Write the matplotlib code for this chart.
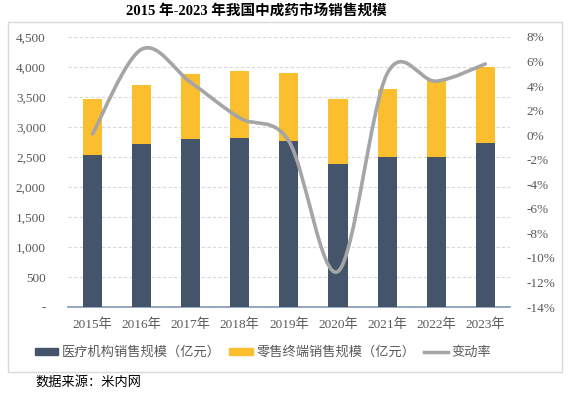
import matplotlib
matplotlib.use('Agg')
import matplotlib.pyplot as plt
from matplotlib.path import Path
from matplotlib.patches import PathPatch, Patch, Rectangle
from matplotlib.lines import Line2D
from matplotlib.ticker import FuncFormatter, MultipleLocator

plt.rcParams['font.family'] = ['Liberation Serif', 'Noto Sans CJK SC']

years = ['2015年', '2016年', '2017年', '2018年', '2019年', '2020年', '2021年', '2022年', '2023年']
hospital = [2533, 2711, 2806, 2822, 2772, 2383, 2506, 2506, 2728]
retail = [929, 995, 1072, 1111, 1123, 1079, 1122, 1272, 1277]
change = [0.1, 7.0, 4.3, 1.4, -0.5, -11.1, 5.0, 4.4, 5.8]

c_dark = '#44546A'
c_yellow = '#FBBE2E'
c_line = '#A5A5A5'
c_text = '#595959'

fig = plt.figure(figsize=(5.69, 3.93), dpi=100)
ax = fig.add_axes([0.1195, 0.2188, 0.7765, 0.6871])

# outer frame of the chart
fig.patches.append(Rectangle((8 / 569, 1 - 372 / 393), 554 / 569, 350 / 393,
                             transform=fig.transFigure, fill=False,
                             edgecolor='#D9D9D9', linewidth=1))

x = list(range(len(years)))
ax.bar(x, hospital, width=0.39, color=c_dark, zorder=3)
ax.bar(x, retail, width=0.39, bottom=hospital, color=c_yellow, zorder=3)

ax.set_xlim(-0.5, len(years) - 0.5)
ax.set_ylim(0, 4500)
ax.yaxis.set_major_locator(MultipleLocator(500))
ax.yaxis.set_major_formatter(FuncFormatter(lambda v, p: '-' if v == 0 else f'{v:,.0f}'))
ax.grid(axis='y', linestyle=(0, (3, 2)), color='#D9D9D9', linewidth=0.8, zorder=0)
ax.set_xticks(x)
ax.set_xticklabels(years)
for s in ['top', 'left', 'right']:
    ax.spines[s].set_visible(False)
ax.spines['bottom'].set_color('#8497B0')
ax.spines['bottom'].set_linewidth(1.2)
ax.tick_params(length=0, labelsize=9.5, labelcolor=c_text)
ax.tick_params(axis='x', pad=8)
ax.tick_params(axis='y', pad=16)

ax2 = ax.twinx()
ax2.set_ylim(-14, 8)
ax2.yaxis.set_major_locator(MultipleLocator(2))
ax2.yaxis.set_major_formatter(FuncFormatter(lambda v, p: f'{v:.0f}%'))
for s in ax2.spines.values():
    s.set_visible(False)
ax2.tick_params(length=0, labelsize=9.5, labelcolor=c_text, pad=12)

# smoothed line (Excel-style bezier through the data points)
pts = list(zip(x, change))
verts = [pts[0]]
codes = [Path.MOVETO]
n = len(pts)
for i in range(n - 1):
    p0 = pts[i - 1] if i > 0 else pts[i]
    p1 = pts[i]
    p2 = pts[i + 1]
    p3 = pts[i + 2] if i + 2 < n else pts[i + 1]
    c1 = (p1[0] + (p2[0] - p0[0]) / 6, p1[1] + (p2[1] - p0[1]) / 6)
    c2 = (p2[0] - (p3[0] - p1[0]) / 6, p2[1] - (p3[1] - p1[1]) / 6)
    verts += [c1, c2, p2]
    codes += [Path.CURVE4] * 3
ax2.add_patch(PathPatch(Path(verts, codes), fill=False, edgecolor=c_line,
                        linewidth=2.6, capstyle='round', zorder=4))

fig.text(256 / 569, 0.97, '2015 年-2023 年我国中成药市场销售规模', fontsize=10.5,
         fontweight='bold', color='black', ha='center', va='center')

handles = [Patch(color=c_dark), Patch(color=c_yellow),
           Line2D([], [], color=c_line, linewidth=2.5)]
labels = ['医疗机构销售规模（亿元）', '零售终端销售规模（亿元）', '变动率']
fig.legend(handles, labels, loc='center', bbox_to_anchor=(0.462, 0.102), ncol=3,
           frameon=False, fontsize=9.5, labelcolor=c_text, handlelength=1.8,
           handleheight=0.45, handletextpad=0.3, columnspacing=0.6)

fig.text(35 / 569, 1 - 382 / 393, '数据来源：米内网', fontsize=9.5, color='black',
         va='center', ha='left')

fig.savefig('out.png', dpi=100)
